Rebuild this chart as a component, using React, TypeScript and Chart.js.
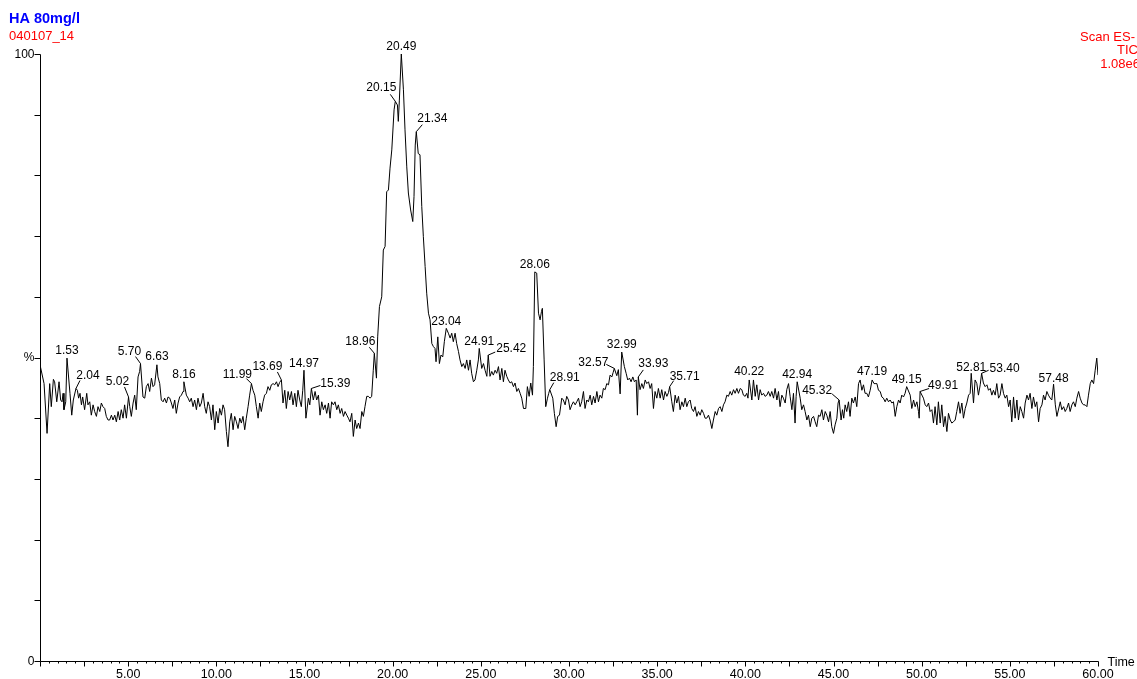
import { useEffect, useRef } from "react";
import { Chart, registerables } from "chart.js";

Chart.register(...registerables);

// ---- Chromatogram trace: [retention time (min), relative intensity (%)] ----
const trace0to10: [number, number][] = [
  [0.0, 48.8], [0.23, 45.7], [0.4, 37.5], [0.55, 45.7], [0.64, 41.9], [0.76, 46.4], [0.83, 46.0], [0.95, 42.7],
  [1.08, 46.0], [1.17, 43.0], [1.25, 42.7], [1.31, 44.1], [1.36, 41.4], [1.46, 42.7], [1.53, 49.9], [1.7, 44.1],
  [1.8, 40.5], [1.89, 43.0], [2.04, 44.9], [2.12, 44.6], [2.19, 43.3], [2.27, 44.1], [2.35, 42.2], [2.42, 43.5],
  [2.53, 41.4], [2.65, 44.1], [2.72, 42.2], [2.82, 42.7], [2.91, 40.5], [3.01, 42.2], [3.1, 41.1], [3.2, 40.3],
  [3.29, 41.9], [3.39, 41.1], [3.48, 42.5], [3.57, 41.9], [3.67, 41.6], [3.76, 40.3], [3.86, 39.7], [3.95, 39.7],
  [4.05, 40.5], [4.14, 39.7], [4.24, 40.5], [4.33, 39.4], [4.43, 41.1], [4.52, 39.7], [4.61, 41.4], [4.71, 40.0],
  [4.8, 42.2], [4.9, 40.0], [5.02, 43.5], [5.09, 41.9], [5.18, 40.3], [5.28, 42.5], [5.37, 43.8], [5.46, 41.4],
  [5.56, 46.8], [5.65, 47.7], [5.7, 49.0], [5.84, 43.5], [5.94, 43.3], [6.03, 45.2], [6.13, 45.7], [6.22, 44.4],
  [6.32, 46.6], [6.41, 45.2], [6.5, 45.5], [6.63, 48.8], [6.69, 46.8], [6.79, 45.7], [6.88, 43.0], [6.98, 42.7],
  [7.07, 43.3], [7.17, 42.5], [7.26, 43.5], [7.36, 43.3], [7.45, 42.5], [7.54, 41.6], [7.64, 43.0], [7.73, 40.8],
  [7.83, 42.5], [7.92, 43.5], [8.02, 43.8], [8.11, 44.4], [8.16, 46.0], [8.3, 43.8], [8.4, 43.3], [8.49, 42.7],
  [8.58, 43.3], [8.68, 41.9], [8.77, 43.0], [8.87, 41.4], [8.96, 43.3], [9.06, 41.9], [9.15, 42.5], [9.25, 44.1],
  [9.34, 41.9], [9.43, 40.8], [9.53, 42.7], [9.62, 41.9], [9.72, 39.7], [9.81, 42.2], [9.91, 38.1],
];

const trace10to20: [number, number][] = [
  [10.0, 41.1], [10.1, 39.2], [10.19, 41.6], [10.29, 40.5], [10.38, 42.2], [10.47, 41.4], [10.57, 37.8], [10.66, 35.3],
  [10.76, 39.4], [10.85, 40.8], [10.95, 38.1], [11.04, 40.3], [11.14, 39.4], [11.23, 38.3], [11.33, 40.0], [11.42, 39.2],
  [11.51, 40.3], [11.61, 38.1], [11.7, 40.0], [11.8, 41.9], [11.89, 43.8], [11.99, 45.7], [12.08, 44.6], [12.18, 43.8],
  [12.27, 41.9], [12.37, 40.0], [12.46, 42.5], [12.55, 41.1], [12.65, 42.7], [12.74, 43.8], [12.84, 44.1], [12.93, 45.2],
  [13.03, 44.6], [13.12, 45.5], [13.22, 45.7], [13.31, 45.5], [13.41, 46.0], [13.5, 45.2], [13.59, 45.9], [13.69, 46.3],
  [13.78, 42.5], [13.88, 44.6], [13.97, 41.6], [14.07, 44.4], [14.16, 43.0], [14.26, 44.4], [14.35, 42.2], [14.45, 44.1],
  [14.54, 41.9], [14.63, 44.6], [14.73, 43.0], [14.82, 41.9], [14.9, 44.6], [14.97, 47.9], [15.08, 40.0], [15.22, 43.3],
  [15.3, 42.2], [15.39, 44.9], [15.5, 43.0], [15.6, 44.4], [15.69, 43.0], [15.79, 43.8], [15.88, 40.5], [15.98, 42.7],
  [16.07, 41.4], [16.17, 42.2], [16.26, 40.8], [16.36, 42.5], [16.45, 40.0], [16.54, 42.7], [16.64, 42.2], [16.73, 42.7],
  [16.83, 41.4], [16.92, 42.2], [17.02, 40.8], [17.11, 41.6], [17.21, 40.3], [17.3, 41.1], [17.4, 40.5], [17.49, 40.0],
  [17.58, 39.4], [17.68, 40.8], [17.77, 37.0], [17.87, 39.7], [17.96, 38.3], [18.06, 39.2], [18.15, 38.3], [18.25, 41.1],
  [18.34, 40.3], [18.43, 41.9], [18.53, 43.6], [18.62, 43.6], [18.72, 43.3], [18.81, 43.6], [18.9, 47.9], [18.96, 50.7],
  [19.08, 46.6], [19.15, 53.4], [19.25, 58.4], [19.38, 60.0], [19.47, 67.7], [19.57, 68.3], [19.66, 77.3], [19.76, 77.6],
  [19.85, 81.2], [19.95, 84.2],
];

const trace20to30: [number, number][] = [
  [20.08, 90.8], [20.15, 92.2], [20.27, 91.6], [20.32, 88.9], [20.38, 92.4], [20.49, 100.0], [20.61, 94.1], [20.7, 87.5],
  [20.8, 81.4], [20.89, 77.1], [21.02, 74.3], [21.14, 72.4], [21.21, 76.5], [21.28, 85.0], [21.34, 87.2], [21.45, 83.6],
  [21.55, 83.4], [21.65, 74.9], [21.74, 69.9], [21.84, 65.0], [21.93, 60.6], [22.03, 57.3], [22.12, 56.2], [22.22, 52.3],
  [22.31, 51.8], [22.4, 51.5], [22.46, 49.3], [22.56, 53.4], [22.65, 49.0], [22.74, 50.4], [22.84, 50.1], [22.93, 52.6],
  [23.04, 54.8], [23.16, 54.0], [23.26, 53.2], [23.35, 54.0], [23.44, 52.6], [23.54, 54.0], [23.63, 52.3], [23.73, 51.0],
  [23.82, 49.6], [23.92, 48.5], [24.01, 49.0], [24.11, 48.2], [24.2, 49.6], [24.3, 47.9], [24.39, 49.6], [24.48, 47.4],
  [24.58, 46.0], [24.67, 46.3], [24.77, 47.9], [24.86, 49.6], [24.91, 51.5], [25.05, 48.2], [25.15, 49.0], [25.24, 47.9],
  [25.34, 46.9], [25.42, 50.4], [25.52, 46.9], [25.62, 47.7], [25.71, 47.1], [25.81, 47.9], [25.9, 47.4], [26.0, 48.5],
  [26.09, 46.3], [26.19, 48.2], [26.28, 46.0], [26.37, 47.9], [26.47, 46.9], [26.56, 46.3], [26.66, 45.8], [26.75, 46.0],
  [26.85, 45.2], [26.94, 45.8], [27.04, 44.4], [27.13, 44.9], [27.23, 44.1], [27.32, 43.3], [27.42, 41.6], [27.55, 41.6],
  [27.64, 45.2], [27.74, 43.6], [27.83, 45.8], [27.93, 43.8], [27.98, 48.5], [28.06, 64.1], [28.17, 63.9], [28.27, 57.3],
  [28.36, 56.2], [28.44, 57.6], [28.49, 58.1], [28.59, 49.6], [28.68, 41.9], [28.78, 43.3], [28.85, 44.1], [28.91, 44.7],
  [29.08, 43.3], [29.17, 40.8], [29.27, 38.6], [29.36, 40.3], [29.46, 40.5], [29.59, 43.3], [29.68, 43.0], [29.78, 42.2],
  [29.87, 43.6], [29.97, 43.0],
];

const trace30to40: [number, number][] = [
  [30.06, 41.4], [30.16, 42.2], [30.25, 42.7], [30.35, 42.2], [30.44, 42.7], [30.54, 43.3], [30.63, 41.9], [30.72, 42.7],
  [30.82, 44.4], [30.91, 41.6], [31.01, 43.0], [31.1, 42.7], [31.2, 43.8], [31.29, 42.2], [31.39, 43.6], [31.48, 42.5],
  [31.58, 44.4], [31.67, 42.7], [31.76, 43.8], [31.86, 43.3], [31.95, 44.9], [32.05, 44.7], [32.14, 45.7], [32.24, 45.5],
  [32.33, 47.1], [32.43, 46.8], [32.5, 47.5], [32.57, 48.2], [32.71, 47.0], [32.8, 48.0], [32.9, 44.0], [32.99, 50.9],
  [33.14, 48.5], [33.24, 47.4], [33.33, 46.3], [33.43, 46.6], [33.52, 46.0], [33.62, 46.8], [33.71, 46.0], [33.81, 46.3],
  [33.88, 40.5], [33.93, 46.8], [34.03, 44.7], [34.13, 45.7], [34.22, 44.9], [34.32, 46.3], [34.41, 45.7], [34.51, 46.0],
  [34.6, 44.9], [34.69, 45.7], [34.79, 41.6], [34.88, 44.4], [34.98, 43.3], [35.07, 44.9], [35.17, 43.3], [35.26, 44.7],
  [35.36, 43.0], [35.45, 44.4], [35.55, 43.6], [35.64, 44.2], [35.71, 45.2], [35.83, 42.7], [35.92, 41.1], [36.02, 43.8],
  [36.11, 42.5], [36.21, 43.6], [36.3, 41.4], [36.4, 42.7], [36.49, 41.9], [36.59, 43.3], [36.68, 41.9], [36.77, 42.7],
  [36.87, 43.0], [36.96, 41.6], [37.06, 41.1], [37.15, 41.9], [37.25, 40.3], [37.34, 41.1], [37.44, 40.5], [37.53, 41.4],
  [37.63, 40.8], [37.72, 40.0], [37.81, 40.0], [37.91, 40.5], [38.0, 39.7], [38.1, 38.3], [38.19, 39.7], [38.29, 41.1],
  [38.38, 40.5], [38.48, 41.6], [38.57, 41.9], [38.67, 41.1], [38.76, 42.2], [38.85, 42.7], [38.95, 43.8], [39.04, 43.6],
  [39.14, 44.4], [39.23, 43.8], [39.33, 44.7], [39.42, 44.1], [39.52, 44.9], [39.61, 44.1], [39.71, 44.9], [39.8, 44.7],
  [39.89, 43.8], [39.99, 43.6],
];

const trace40to50: [number, number][] = [
  [40.08, 44.1], [40.15, 43.3], [40.22, 46.3], [40.37, 43.0], [40.46, 46.3], [40.56, 43.6], [40.65, 45.5], [40.75, 43.0],
  [40.84, 44.7], [40.93, 43.8], [41.03, 44.1], [41.12, 43.6], [41.22, 43.8], [41.31, 44.4], [41.41, 43.6], [41.5, 44.4],
  [41.6, 43.3], [41.69, 44.9], [41.79, 43.0], [41.88, 44.4], [41.97, 41.9], [42.07, 43.8], [42.16, 43.3], [42.26, 42.5],
  [42.35, 44.7], [42.45, 45.7], [42.54, 43.6], [42.64, 41.4], [42.73, 44.1], [42.82, 39.2], [42.88, 43.6], [42.94, 46.0],
  [43.11, 43.3], [43.2, 41.4], [43.3, 42.2], [43.39, 41.1], [43.49, 39.7], [43.58, 40.5], [43.68, 38.6], [43.77, 40.0],
  [43.87, 40.3], [43.96, 39.4], [44.05, 38.6], [44.15, 40.5], [44.24, 40.3], [44.34, 41.4], [44.43, 39.7], [44.53, 41.1],
  [44.62, 40.5], [44.72, 39.4], [44.81, 41.1], [44.9, 38.6], [45.0, 37.5], [45.09, 38.9], [45.19, 40.0], [45.26, 42.5],
  [45.32, 43.0], [45.43, 39.7], [45.51, 41.4], [45.58, 40.0], [45.66, 42.2], [45.75, 41.1], [45.85, 42.7], [45.94, 40.3],
  [46.04, 43.3], [46.13, 42.5], [46.23, 43.5], [46.32, 41.9], [46.42, 45.7], [46.51, 46.3], [46.61, 44.6], [46.7, 45.5],
  [46.79, 44.1], [46.89, 44.1], [46.98, 43.5], [47.08, 44.6], [47.19, 46.3], [47.3, 45.7], [47.36, 45.7], [47.46, 45.7],
  [47.55, 44.6], [47.65, 44.4], [47.74, 43.5], [47.83, 43.3], [47.93, 42.7], [48.02, 43.3], [48.12, 42.7], [48.21, 43.0],
  [48.31, 42.5], [48.4, 42.7], [48.5, 40.3], [48.59, 41.9], [48.69, 43.0], [48.78, 42.5], [48.87, 43.8], [48.97, 43.5],
  [49.06, 44.1], [49.15, 45.2], [49.35, 43.8], [49.44, 41.6], [49.54, 43.0], [49.63, 41.9], [49.73, 42.7], [49.82, 41.1],
  [49.86, 40.0], [49.91, 44.4],
];

const trace50to60: [number, number][] = [
  [50.1, 43.3], [50.2, 42.2], [50.29, 41.9], [50.39, 42.5], [50.48, 41.1], [50.58, 41.4], [50.67, 39.2], [50.76, 41.9],
  [50.86, 38.9], [50.95, 42.7], [51.05, 39.2], [51.14, 42.2], [51.24, 38.6], [51.33, 40.3], [51.43, 37.8], [51.52, 40.8],
  [51.62, 39.7], [51.71, 39.2], [51.8, 39.4], [51.9, 39.7], [51.99, 41.1], [52.09, 42.7], [52.18, 40.8], [52.28, 42.5],
  [52.37, 40.0], [52.47, 41.6], [52.56, 42.5], [52.66, 43.8], [52.75, 44.1], [52.81, 47.4], [52.94, 42.5], [53.03, 46.3],
  [53.13, 45.7], [53.22, 43.8], [53.32, 45.5], [53.4, 47.4], [53.5, 45.8], [53.6, 45.2], [53.7, 45.5], [53.79, 44.6],
  [53.89, 44.9], [53.98, 43.8], [54.07, 44.6], [54.17, 43.8], [54.26, 45.7], [54.36, 43.3], [54.45, 43.8], [54.55, 45.7],
  [54.64, 44.1], [54.74, 43.3], [54.83, 43.8], [54.93, 41.9], [55.02, 43.0], [55.11, 39.4], [55.21, 43.5], [55.3, 40.0],
  [55.4, 43.0], [55.49, 39.7], [55.59, 41.9], [55.68, 41.1], [55.78, 40.0], [55.87, 42.5], [55.97, 43.8], [56.06, 43.0],
  [56.15, 44.1], [56.25, 41.6], [56.34, 43.5], [56.44, 41.9], [56.53, 42.7], [56.63, 39.4], [56.72, 41.6], [56.82, 42.2],
  [56.91, 43.8], [57.0, 43.0], [57.1, 44.4], [57.19, 43.8], [57.29, 43.3], [57.38, 43.0], [57.48, 45.6], [57.58, 42.2],
  [57.67, 40.3], [57.86, 42.7], [57.95, 41.4], [58.05, 41.9], [58.14, 41.1], [58.23, 41.6], [58.33, 42.5], [58.42, 41.1],
  [58.52, 42.2], [58.61, 42.7], [58.71, 41.9], [58.8, 43.3], [58.9, 44.4], [58.99, 43.3], [59.09, 42.5], [59.18, 42.2],
  [59.27, 42.2], [59.37, 41.9], [59.46, 43.8], [59.56, 45.7], [59.65, 46.3], [59.75, 45.7], [59.84, 47.9], [59.93, 49.9],
  [60.0, 47.1],
];

// ---- Peak annotations (retention times printed above peaks) ----
const peakTimes = [
  1.53, 2.04, 5.02, 5.7, 6.63, 8.16, 11.99, 13.69, 14.97, 15.39, 18.96, 20.15, 20.49, 21.34, 23.04, 24.91,
  25.42, 28.06, 28.91, 32.57, 32.99, 33.93, 35.71, 40.22, 42.94, 45.32, 47.19, 49.15, 49.91, 52.81, 53.4, 57.48,
];

// ---- Axis tick labels ----
const xTickValues = [5, 10, 15, 20, 25, 30, 35, 40, 45, 50, 55, 60];
const yTickValues = [0, 50, 100];
const yTickLabels = ["0", "%", "100"];

// ---- Header texts ----
const sampleTitle = "HA 80mg/l";
const sampleId = "040107_14";
const scanInfo = ["Scan ES-", "TIC", "1.08e6"];
const xAxisTitle = "Time";

// ---- Label placement (styling: pixel offsets from the apex) [textDx, textDy, leaderDx, leaderDy] ----
const labelPlacement: [number, number, number, number][] = [
  [0, -7, 0, 0], [12, -13, 4, -8], [-11, -15, -4, -10], [-11, -12, -5, -7], [0, -8, 0, 0], [0, -7, 0, 0],
  [-14, -9, -5, -5], [-14, -13, -4, -8], [0, -7, 0, 0], [24, -5, 9, -3], [-14, -12, -5, -6], [-14, -14, -5, -7],
  [0, -7, 0, 0], [16, -13, 6, -7], [0, -7, 0, 0], [0, -7, 0, 0], [23, -6, 7, -3], [0, -7, 0, 0],
  [15, -12, 4, -7], [-21, -6, -8, -4], [0, -7, 0, 0], [15, -13, 5, -7], [15, -10, 4, -6], [0, -8, 0, 0],
  [0, -7, 0, 0], [-22, -9, -7, -6], [0, -8, 0, 0], [0, -7, 0, 0], [23, -6, 9, -3], [0, -6, 0, 0],
  [23, -5, 7, -3], [0, -6, 0, 0],
];

const FONT = "'Liberation Sans', Arial, Helvetica, sans-serif";

const allPoints = [
  ...trace0to10,
  ...trace10to20,
  ...trace20to30,
  ...trace30to40,
  ...trace40to50,
  ...trace50to60,
];

const decorPlugin = {
  id: "massLynxDecor",
  afterDraw(chart: any) {
    const ctx: CanvasRenderingContext2D = chart.ctx;
    const xs = chart.scales.x;
    const ys = chart.scales.y;
    const x0 = Math.round(xs.getPixelForValue(0)) + 0.5;
    const y0 = Math.round(ys.getPixelForValue(0)) + 0.5;
    const xEnd = Math.round(xs.getPixelForValue(60)) + 0.5;
    const yTop = Math.round(ys.getPixelForValue(100)) + 0.5;

    ctx.save();
    ctx.strokeStyle = "#000";
    ctx.lineWidth = 1;

    // axes
    ctx.beginPath();
    ctx.moveTo(x0, yTop);
    ctx.lineTo(x0, y0);
    ctx.lineTo(xEnd, y0);
    ctx.stroke();

    // y ticks (every 10 %)
    ctx.beginPath();
    for (let v = 0; v <= 100; v += 10) {
      const y = Math.round(ys.getPixelForValue(v)) + 0.5;
      ctx.moveTo(x0 - 6, y);
      ctx.lineTo(x0, y);
    }
    ctx.stroke();
    ctx.fillStyle = "#000";
    ctx.font = `12px ${FONT}`;
    ctx.textAlign = "right";
    ctx.textBaseline = "middle";
    yTickValues.forEach((v, i) => {
      ctx.fillText(yTickLabels[i], x0 - 6, ys.getPixelForValue(v) + 0.5);
    });

    // x ticks (every 0.5 min, longer every 2.5 min)
    ctx.beginPath();
    for (let i = 0; i <= 120; i++) {
      const t = i * 0.5;
      const x = Math.round(xs.getPixelForValue(t)) + 0.5;
      const len = i % 5 === 0 ? 5 : 2;
      ctx.moveTo(x, y0);
      ctx.lineTo(x, y0 + len);
    }
    ctx.stroke();
    ctx.font = `12.5px ${FONT}`;
    ctx.textAlign = "center";
    ctx.textBaseline = "middle";
    xTickValues.forEach((v) => {
      ctx.fillText(v.toFixed(2), xs.getPixelForValue(v), y0 + 13);
    });
    ctx.font = `12.5px ${FONT}`;
    ctx.textAlign = "left";
    ctx.fillText(xAxisTitle, xEnd + 9, y0 + 1);

    // peak labels
    ctx.font = `12px ${FONT}`;
    ctx.textAlign = "center";
    ctx.textBaseline = "middle";
    peakTimes.forEach((t, i) => {
      let best = allPoints[0];
      for (const p of allPoints) {
        if (Math.abs(p[0] - t) < Math.abs(best[0] - t)) best = p;
      }
      const ax = xs.getPixelForValue(best[0]);
      const ay = ys.getPixelForValue(best[1]);
      const [tdx, tdy, ldx, ldy] = labelPlacement[i];
      if (ldx !== 0 || ldy !== 0) {
        ctx.beginPath();
        ctx.moveTo(ax, ay);
        ctx.lineTo(ax + ldx, ay + ldy);
        ctx.stroke();
      }
      ctx.fillText(t.toFixed(2), ax + tdx, ay + tdy);
    });

    // header
    ctx.textBaseline = "alphabetic";
    ctx.textAlign = "left";
    ctx.fillStyle = "#0000ff";
    ctx.font = `bold 14.5px ${FONT}`;
    ctx.fillText(sampleTitle, 9, 23);
    ctx.fillStyle = "#ff0000";
    ctx.font = `13px ${FONT}`;
    ctx.fillText(sampleId, 9, 40);
    ctx.textAlign = "right";
    ctx.fillText(scanInfo[0], 1135, 41);
    ctx.fillText(scanInfo[1], 1138, 54);
    ctx.fillText(scanInfo[2], 1140, 68);
    ctx.restore();
  },
};

export default function App() {
  const canvasRef = useRef<HTMLCanvasElement | null>(null);

  useEffect(() => {
    const canvas = canvasRef.current;
    if (!canvas) return;
    const chart = new Chart(canvas, {
      type: "line",
      data: {
        datasets: [
          {
            data: allPoints.map(([x, y]) => ({ x, y })),
            borderColor: "#000",
            borderWidth: 1,
            pointRadius: 0,
            tension: 0,
            fill: false,
          },
        ],
      },
      options: {
        animation: false,
        responsive: false,
        devicePixelRatio: 1,
        layout: { padding: { left: 40, right: 39, top: 54, bottom: 18 } },
        plugins: { legend: { display: false }, tooltip: { enabled: false } },
        scales: {
          x: { type: "linear", min: 0, max: 60, display: false },
          y: { type: "linear", min: 0, max: 100, display: false },
        },
      },
      plugins: [decorPlugin],
    });
    return () => chart.destroy();
  }, []);

  return (
    <div style={{ position: "fixed", left: 0, top: 0, width: 1137, height: 679, background: "#fff" }}>
      <canvas ref={canvasRef} width={1137} height={679} style={{ display: "block" }} />
    </div>
  );
}
